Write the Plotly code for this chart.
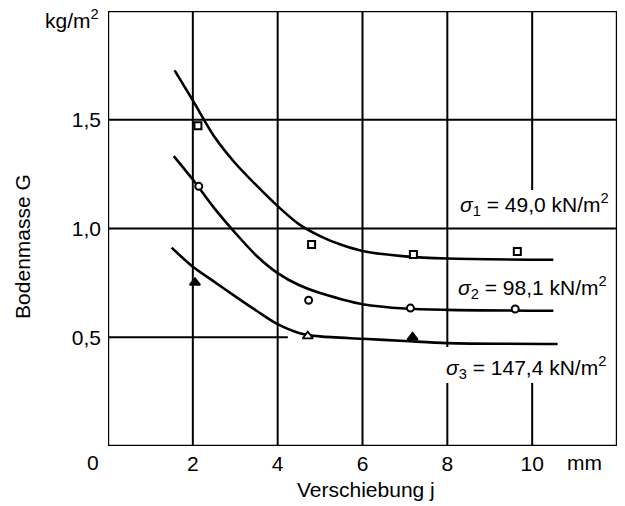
import plotly.graph_objects as go

# Fitted curves
c1_x = [1.57, 2.0, 2.5, 3.0, 3.5, 4.0, 4.5, 5.0, 5.5, 6.0, 7.0, 8.0, 10.5]
c1_y = [1.727, 1.589, 1.424, 1.300, 1.198, 1.103, 1.020, 0.965, 0.925, 0.897, 0.872, 0.862, 0.856]
c2_x = [1.55, 2.0, 2.5, 3.0, 3.5, 4.0, 4.5, 5.0, 5.5, 6.0, 7.0, 8.0, 10.5]
c2_y = [1.333, 1.225, 1.095, 0.980, 0.875, 0.795, 0.740, 0.703, 0.675, 0.652, 0.632, 0.626, 0.622]
c3_x = [1.5, 2.0, 2.5, 3.0, 3.5, 4.0, 4.5, 5.0, 6.0, 7.0, 8.0, 10.6]
c3_y = [0.912, 0.824, 0.756, 0.688, 0.622, 0.560, 0.520, 0.504, 0.493, 0.483, 0.473, 0.469]

# Measured points
p1_x = [2.12, 4.80, 7.20, 9.65]
p1_y = [1.472, 0.926, 0.880, 0.894]
p2_x = [2.14, 4.73, 7.13, 9.60]
p2_y = [1.194, 0.670, 0.634, 0.630]
p3_x = [2.05, 4.71, 7.18]
p3_y = [0.751, 0.505, 0.500]
p3_fill = ["black", "white", "black"]

x_ticks = [2, 4, 6, 8, 10]
x_ticktext = ["2", "4", "6", "8", "10"]
y_ticks = [0.5, 1.0, 1.5]
y_ticktext = ["0,5", "1,0", "1,5"]

labels = ["<i>σ</i><sub>1</sub> = 49,0 kN/m<sup>2</sup>",
          "<i>σ</i><sub>2</sub> = 98,1 kN/m<sup>2</sup>",
          "<i>σ</i><sub>3</sub> = 147,4 kN/m<sup>2</sup>"]

FONT = "Liberation Sans, Arial, sans-serif"
FS = 21
fig = go.Figure()

for cx, cy in [(c1_x, c1_y), (c2_x, c2_y), (c3_x, c3_y)]:
    fig.add_trace(go.Scatter(x=cx, y=cy, mode="lines",
                             line=dict(color="black", width=2.6, shape="spline", smoothing=0.8),
                             showlegend=False, hoverinfo="skip"))

fig.add_trace(go.Scatter(x=p1_x, y=p1_y, mode="markers", showlegend=False,
                         marker=dict(symbol="square", size=7, color="white",
                                     line=dict(color="black", width=2))))
fig.add_trace(go.Scatter(x=p2_x, y=p2_y, mode="markers", showlegend=False,
                         marker=dict(symbol="circle", size=7, color="white",
                                     line=dict(color="black", width=2))))
fig.add_trace(go.Scatter(x=p3_x, y=p3_y, mode="markers", showlegend=False,
                         marker=dict(symbol="triangle-up", size=9, color=p3_fill,
                                     line=dict(color="black", width=1.8))))

# grid lines / frame
L = dict(color="black", width=2)
segs = [
    (2, 0, 2, 2), (4, 0, 4, 2), (6, 0, 6, 2),
    (8, 2, 8, 0.455), (8, 0.29, 8, 0),
    (10, 2, 10, 1.177), (10, 0.29, 10, 0),
    (0, 1.5, 12, 1.5), (0, 1.0, 12, 1.0), (0, 0.5, 4.24, 0.5),
]
for x0, y0, x1, y1 in segs:
    fig.add_shape(type="line", xref="x", yref="y", x0=x0, y0=y0, x1=x1, y1=y1,
                  line=L, layer="below")
fig.add_shape(type="rect", xref="x", yref="y", x0=0, y0=0, x1=12, y1=2,
              line=dict(color="black", width=2.4), layer="above")

ann = [
    dict(text=labels[0], x=11.86, y=1.11),
    dict(text=labels[1], x=11.82, y=0.73),
    dict(text=labels[2], x=11.78, y=0.36),
]
for a in ann:
    fig.add_annotation(text=a["text"], x=a["x"], y=a["y"], xref="x", yref="y",
                       xanchor="right", yanchor="middle", showarrow=False,
                       font=dict(family=FONT, size=FS, color="black"))

def paper_text(text, x, y, xanchor="center", angle=0):
    fig.add_annotation(text=text, x=x, y=y, xref="paper", yref="paper",
                       xanchor=xanchor, yanchor="middle", showarrow=False,
                       textangle=angle,
                       font=dict(family=FONT, size=FS, color="black"))

paper_text("kg/m<sup>2</sup>", -0.014, 0.982, xanchor="right")
paper_text("0", -0.0295, -0.039)
paper_text("mm", 0.937, -0.039)
paper_text("Verschiebung j", 0.507, -0.101)
paper_text("Bodenmasse G", -0.167, 0.46, angle=-90)

fig.update_layout(
    width=625, height=506,
    margin=dict(l=108, r=8, t=11, b=60),
    paper_bgcolor="white", plot_bgcolor="white",
    xaxis=dict(range=[0, 12], showgrid=False, zeroline=False, showline=False,
               tickvals=x_ticks, ticktext=x_ticktext, ticks="",
               ticklabelstandoff=3,
               tickfont=dict(family=FONT, size=FS, color="black")),
    yaxis=dict(range=[0, 2], showgrid=False, zeroline=False, showline=False,
               tickvals=y_ticks, ticktext=y_ticktext, ticks="",
               ticklabelstandoff=6,
               tickfont=dict(family=FONT, size=FS, color="black")),
)

fig.write_html("out.html")
